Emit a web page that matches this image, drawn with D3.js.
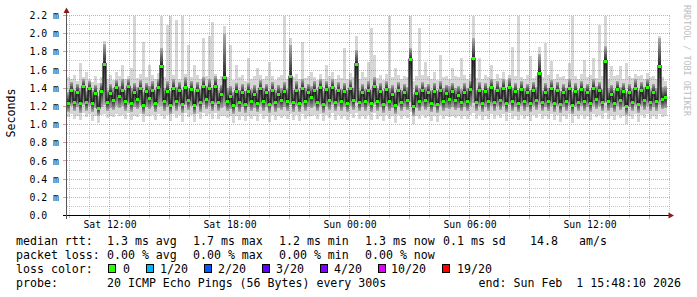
<!DOCTYPE html>
<html><head><meta charset="utf-8">
<script src="https://cdn.jsdelivr.net/npm/d3@7"></script>
<style>
body{margin:0;background:#fff}
svg{display:block}
text{font-family:"DejaVu Sans Mono",monospace;white-space:pre}
</style>
</head><body>
<svg id="c" width="697" height="297"></svg>
<script>
// ---- data (ms) ----
const stepMinutes = 9;
const median = [
1.24,1.38,1.25,1.36,1.24,1.42,1.25,1.40,1.24,1.35,
1.18,1.37,1.67,1.25,1.35,1.27,1.41,1.31,1.38,1.26,
1.42,1.24,1.36,1.28,1.40,1.22,1.37,1.29,1.38,1.24,
1.41,1.65,1.26,1.37,1.22,1.40,1.26,1.38,1.23,1.41,
1.27,1.39,1.22,1.38,1.25,1.42,1.28,1.40,1.25,1.43,
1.25,1.34,1.52,1.26,1.31,1.22,1.37,1.25,1.36,1.23,
1.37,1.26,1.34,1.24,1.40,1.26,1.36,1.23,1.38,1.25,
1.34,1.27,1.37,1.26,1.53,1.25,1.38,1.24,1.40,1.26,
1.36,1.30,1.38,1.25,1.41,1.23,1.39,1.27,1.41,1.25,
1.38,1.26,1.37,1.24,1.40,1.27,1.67,1.25,1.36,1.26,
1.38,1.24,1.42,1.26,1.37,1.23,1.39,1.26,1.34,1.22,
1.38,1.25,1.36,1.27,1.72,1.20,1.35,1.26,1.38,1.27,
1.36,1.24,1.37,1.23,1.38,1.26,1.35,1.28,1.37,1.27,
1.33,1.25,1.36,1.26,1.39,1.73,1.25,1.38,1.24,1.37,
1.26,1.41,1.25,1.38,1.27,1.40,1.24,1.41,1.26,1.37,
1.24,1.39,1.26,1.36,1.24,1.38,1.27,1.57,1.25,1.36,
1.26,1.40,1.24,1.38,1.23,1.36,1.26,1.40,1.22,1.37,
1.25,1.39,1.26,1.36,1.24,1.40,1.28,1.38,1.25,1.70,
1.26,1.34,1.24,1.39,1.27,1.37,1.21,1.36,1.25,1.40,
1.23,1.38,1.27,1.41,1.25,1.36,1.26,1.65,1.28,1.30];
const pingMax = [
1.52,1.50,1.55,1.48,1.68,1.52,1.58,1.50,1.47,1.53,
1.46,1.52,1.92,1.50,1.55,1.49,1.58,1.53,1.66,1.50,
1.54,1.62,2.20,1.51,1.56,1.91,1.52,1.66,1.55,1.50,
1.57,2.20,1.52,2.10,2.20,1.55,2.15,1.50,2.20,1.56,
1.88,1.52,1.66,1.55,1.50,1.95,1.53,1.97,2.13,1.56,
1.50,1.54,2.08,1.52,1.88,1.49,1.66,1.52,1.55,1.48,
1.73,1.50,1.54,1.62,1.55,1.50,1.53,1.69,1.54,1.49,
1.52,1.55,2.20,1.50,1.95,1.52,1.56,1.50,1.91,1.51,
1.54,1.58,1.52,1.49,1.56,1.50,1.66,1.53,1.58,1.50,
1.55,1.51,1.84,1.50,1.57,1.52,1.98,1.50,1.58,1.52,
1.69,2.06,1.77,1.51,1.55,1.49,1.56,2.20,1.52,1.62,
1.55,1.50,1.54,1.52,2.20,1.48,1.53,2.06,1.55,1.69,
1.53,1.50,1.58,1.49,1.77,1.52,1.54,1.50,1.62,1.53,
1.52,1.73,1.55,1.50,1.56,2.20,1.51,1.73,1.50,1.55,
1.52,1.66,1.50,1.56,1.51,1.58,1.49,1.55,1.85,1.54,
2.20,1.52,1.50,1.55,1.75,1.51,1.53,1.85,1.52,1.90,
1.55,1.70,1.50,1.56,1.52,1.54,1.50,1.68,2.20,1.53,
1.50,1.56,1.71,1.52,1.55,1.73,1.51,2.10,1.54,2.20,
1.50,1.65,1.53,1.55,1.64,1.50,1.68,1.54,1.51,1.56,
1.53,1.55,1.50,1.57,1.52,1.54,1.50,1.98,1.52,1.48];
const smokeHigh = [
1.36,1.47,1.38,1.45,1.40,1.50,1.37,1.48,1.38,1.44,
1.32,1.46,1.89,1.38,1.45,1.40,1.49,1.42,1.50,1.38,
1.50,1.40,1.46,1.41,1.49,1.36,1.46,1.43,1.48,1.38,
1.50,1.84,1.40,1.48,1.37,1.50,1.41,1.47,1.38,1.52,
1.40,1.48,1.36,1.47,1.39,1.52,1.42,1.50,1.40,1.53,
1.38,1.44,2.00,1.40,1.43,1.36,1.46,1.38,1.45,1.37,
1.46,1.39,1.44,1.38,1.49,1.40,1.45,1.37,1.47,1.38,
1.44,1.40,1.47,1.39,1.88,1.38,1.48,1.37,1.50,1.40,
1.45,1.42,1.48,1.38,1.50,1.37,1.48,1.41,1.50,1.38,
1.47,1.39,1.46,1.38,1.49,1.40,1.82,1.38,1.45,1.39,
1.48,1.38,1.52,1.40,1.46,1.37,1.48,1.40,1.44,1.36,
1.47,1.38,1.45,1.41,1.84,1.34,1.44,1.40,1.47,1.41,
1.45,1.38,1.46,1.37,1.48,1.40,1.44,1.42,1.46,1.40,
1.43,1.39,1.46,1.40,1.48,1.95,1.38,1.47,1.38,1.46,
1.40,1.50,1.38,1.48,1.41,1.50,1.38,1.51,1.40,1.46,
1.38,1.48,1.40,1.45,1.38,1.47,1.41,1.78,1.38,1.46,
1.40,1.49,1.38,1.47,1.37,1.45,1.40,1.50,1.36,1.46,
1.38,1.48,1.40,1.45,1.38,1.50,1.42,1.47,1.39,1.86,
1.40,1.44,1.38,1.48,1.41,1.46,1.35,1.45,1.39,1.50,
1.37,1.47,1.41,1.50,1.39,1.45,1.40,1.95,1.41,1.42];
const smokeLow = [
1.14,1.20,1.15,1.19,1.13,1.22,1.15,1.21,1.14,1.18,
1.10,1.19,1.22,1.15,1.18,1.16,1.21,1.18,1.20,1.15,
1.22,1.14,1.19,1.17,1.21,1.12,1.19,1.17,1.20,1.14,
1.21,1.20,1.15,1.19,1.12,1.21,1.15,1.20,1.13,1.22,
1.16,1.20,1.12,1.20,1.14,1.22,1.17,1.21,1.15,1.22,
1.15,1.18,1.20,1.15,1.17,1.12,1.19,1.14,1.19,1.13,
1.19,1.15,1.18,1.14,1.21,1.15,1.19,1.13,1.20,1.14,
1.18,1.16,1.19,1.15,1.22,1.14,1.20,1.14,1.21,1.15,
1.19,1.18,1.20,1.15,1.21,1.13,1.20,1.16,1.22,1.15,
1.20,1.15,1.19,1.14,1.21,1.16,1.24,1.15,1.19,1.15,
1.20,1.14,1.22,1.15,1.19,1.13,1.20,1.15,1.18,1.12,
1.20,1.15,1.19,1.16,1.25,1.10,1.18,1.15,1.20,1.16,
1.19,1.14,1.19,1.13,1.20,1.15,1.18,1.17,1.19,1.16,
1.18,1.15,1.19,1.15,1.20,1.24,1.15,1.20,1.14,1.19,
1.15,1.21,1.15,1.20,1.16,1.21,1.14,1.22,1.15,1.19,
1.14,1.20,1.15,1.19,1.14,1.20,1.16,1.22,1.15,1.19,
1.15,1.21,1.14,1.20,1.13,1.19,1.15,1.21,1.12,1.19,
1.15,1.20,1.15,1.19,1.14,1.21,1.17,1.20,1.15,1.24,
1.15,1.18,1.14,1.20,1.16,1.19,1.11,1.19,1.15,1.21,
1.13,1.20,1.16,1.21,1.15,1.19,1.15,1.22,1.17,1.18];
const pingMin = [
1.08,1.12,1.06,1.10,1.05,1.13,1.08,1.12,1.04,1.10,
1.02,1.11,1.12,1.07,1.10,1.08,1.12,1.09,1.11,1.06,
1.13,1.05,1.10,1.08,1.12,1.03,1.10,1.09,1.11,1.05,
1.12,1.10,1.06,1.11,1.04,1.12,1.07,1.11,1.03,1.13,
1.08,1.11,1.03,1.12,1.06,1.13,1.09,1.12,1.06,1.13,
1.06,1.10,1.10,1.07,1.09,1.02,1.10,1.05,1.10,1.04,
1.10,1.06,1.09,1.04,1.12,1.06,1.10,1.03,1.11,1.05,
1.09,1.07,1.10,1.06,1.12,1.05,1.11,1.04,1.12,1.06,
1.10,1.09,1.11,1.06,1.12,1.04,1.11,1.07,1.13,1.05,
1.11,1.06,1.10,1.05,1.12,1.07,1.13,1.06,1.10,1.06,
1.11,1.05,1.13,1.06,1.10,1.04,1.11,1.06,1.09,1.02,
1.11,1.06,1.10,1.07,1.14,1.01,1.09,1.06,1.11,1.07,
1.10,1.04,1.10,1.03,1.11,1.06,1.09,1.08,1.10,1.07,
1.09,1.06,1.10,1.06,1.11,1.13,1.06,1.11,1.05,1.10,
1.06,1.12,1.06,1.11,1.07,1.12,1.04,1.13,1.06,1.10,
1.05,1.11,1.06,1.10,1.04,1.11,1.07,1.12,1.06,1.10,
1.06,1.12,1.05,1.11,1.03,1.10,1.06,1.12,1.02,1.10,
1.06,1.11,1.06,1.10,1.05,1.12,1.08,1.11,1.06,1.13,
1.06,1.09,1.05,1.11,1.07,1.10,1.01,1.10,1.06,1.12,
1.03,1.11,1.07,1.12,1.06,1.10,1.06,1.12,1.08,1.09];

const yTicks = [0,0.2,0.4,0.6,0.8,1.0,1.2,1.4,1.6,1.8,2.0,2.2];
const yTickLabels = ["0.0","0.2 m","0.4 m","0.6 m","0.8 m","1.0 m","1.2 m","1.4 m","1.6 m","1.8 m","2.0 m","2.2 m"];
const yMinorTicks = [0.1,0.3,0.5,0.7,0.9,1.1,1.3,1.5,1.7,1.9,2.1];

const legendRow1 = [[16,"median rtt:"],[107,"1.3 ms avg"],[193,"1.7 ms max"],[279,"1.2 ms min"],[365,"1.3 ms now"],[443,"0.1 ms sd"],[530,"14.8"],[579,"am/s"]];
const legendRow2 = [[16,"packet loss:"],[107,"0.00 % avg"],[193,"0.00 % max"],[279,"0.00 % min"],[365,"0.00 % now"]];
const lossLabels = ["0","1/20","2/20","3/20","4/20","10/20","19/20"];
const lossColors = ["#26ff00","#00b8ff","#0059ff","#5e00ff","#7e00ff","#dd00ff","#ff0000"];
const lossBoxX = [108,146,204,262,320,378,442];
const lossTextX = [123,160,218,276,334,391,457];
const probeText = "20 ICMP Echo Pings (56 Bytes) every 300s";
const endText = "end: Sun Feb  1 15:48:10 2026";

// ---- scales ----
const t0 = new Date(2026,0,31,9,52,30);
const x = d3.scaleTime().domain([t0, new Date(2026,1,1,16,1,30)]).range([67,670]);
const y = d3.scaleLinear().domain([0,2.2]).range([215.5,15.5]);
const tAt = i => new Date(t0.getTime() + i*stepMinutes*60000);

const svg = d3.select("#c");
const defs = svg.append("defs");
function grad(id, top, bottom){
  const g = defs.append("linearGradient").attr("id",id).attr("x1",0).attr("y1",0).attr("x2",0).attr("y2",1);
  g.append("stop").attr("offset","0%").attr("stop-color",top);
  g.append("stop").attr("offset","100%").attr("stop-color",bottom);
}
grad("gLow","#222222","#adadad");
grad("gHigh","#adadad","#222222");

const idx = d3.range(median.length);
const plot = svg.append("g").attr("shape-rendering","crispEdges");
// outer smoke
plot.selectAll("rect.out").data(idx).join("rect")
  .attr("x",i=>x(tAt(i))).attr("width",i=>x(tAt(i+1))-x(tAt(i)))
  .attr("y",i=>y(pingMax[i])).attr("height",i=>y(pingMin[i])-y(pingMax[i]))
  .attr("fill","#d6d6d6");
plot.selectAll("rect.lo").data(idx).join("rect")
  .attr("x",i=>x(tAt(i))).attr("width",i=>x(tAt(i+1))-x(tAt(i)))
  .attr("y",i=>y(median[i])).attr("height",i=>Math.max(0,y(smokeLow[i])-y(median[i])))
  .attr("fill","url(#gLow)");
plot.selectAll("rect.hi").data(idx).join("rect")
  .attr("x",i=>x(tAt(i))).attr("width",i=>x(tAt(i+1))-x(tAt(i)))
  .attr("y",i=>y(smokeHigh[i])).attr("height",i=>Math.max(0,y(median[i])-y(smokeHigh[i])))
  .attr("fill","url(#gHigh)");

// grid (on top)
const grid = svg.append("g").attr("shape-rendering","crispEdges").attr("stroke-dasharray","1,1");
const hours = d3.timeHour.range(x.domain()[0], x.domain()[1]);
const X0 = 67, X1 = 670;
grid.selectAll("line.hm").data(yMinorTicks).join("line")
  .attr("x1",X0).attr("x2",X1).attr("y1",d=>Math.floor(y(d))+0.5).attr("y2",d=>Math.floor(y(d))+0.5)
  .attr("stroke","rgba(130,130,130,0.45)");
grid.selectAll("line.hM").data(yTicks.slice(1)).join("line")
  .attr("x1",X0).attr("x2",X1).attr("y1",d=>Math.floor(y(d))+0.5).attr("y2",d=>Math.floor(y(d))+0.5)
  .attr("stroke","rgba(205,70,70,0.5)");
grid.selectAll("line.v").data(hours).join("line")
  .attr("x1",d=>Math.floor(x(d))+0.5).attr("x2",d=>Math.floor(x(d))+0.5)
  .attr("y1",15.5).attr("y2",215)
  .attr("stroke",d=>d.getHours()%3===0?"rgba(205,70,70,0.5)":"rgba(130,130,130,0.45)");

// median: connecting step line + loss-colored slabs
const centers = idx.map(i=>[(x(tAt(i))+x(tAt(i+1)))/2, y(median[i])]);
svg.append("path").attr("d", d3.line().curve(d3.curveStep)(centers))
  .attr("fill","none").attr("stroke","#111").attr("stroke-width",1.2);
svg.append("g").attr("shape-rendering","crispEdges").selectAll("rect").data(idx).join("rect")
  .attr("x",i=>x(tAt(i))).attr("width",i=>x(tAt(i+1))-x(tAt(i)))
  .attr("y",i=>Math.round(y(median[i]))-1.5).attr("height",3)
  .attr("fill",lossColors[0]);

// axes
const ax = svg.append("g").attr("shape-rendering","crispEdges");
ax.selectAll("line.xt").data(hours).join("line")
  .attr("x1",d=>Math.floor(x(d))+0.5).attr("x2",d=>Math.floor(x(d))+0.5)
  .attr("y1",215.5).attr("y2",d=>d.getHours()%3===0?219:218)
  .attr("stroke",d=>d.getHours()%3===0?"#e09a9a":"#c8c8c8");
ax.selectAll("line.yt").data(yTicks.slice(1)).join("line")
  .attr("x1",63).attr("x2",66).attr("y1",d=>Math.floor(y(d))+0.5).attr("y2",d=>Math.floor(y(d))+0.5)
  .attr("stroke","#e09a9a");
ax.append("line").attr("x1",63).attr("x2",670).attr("y1",215.5).attr("y2",215.5).attr("stroke","#000");
ax.append("line").attr("x1",66.5).attr("x2",66.5).attr("y1",219).attr("y2",12).attr("stroke","#555");
svg.append("path").attr("d","M66.5,7.5L63.5,13L69.5,13Z").attr("fill","#8b1c1c");
svg.append("path").attr("d","M674,215.5L668.5,212.5L668.5,218.5Z").attr("fill","#8b1c1c");

// tick labels
svg.selectAll("text.yl").data(yTicks).join("text")
  .attr("x",29.5).attr("y",d=>y(d)+3.6).attr("font-size","9.8px").attr("fill","#000")
  .text((d,i)=>yTickLabels[i]);
const fmt = d3.timeFormat("%a %H:%M");
svg.selectAll("text.xl").data(hours.filter(d=>d.getHours()%6===0)).join("text")
  .attr("x",d=>x(d)+0.5).attr("y",227.5).attr("text-anchor","middle").attr("font-size","9.8px").attr("fill","#000")
  .text(d=>fmt(d));

// y title & watermark
svg.append("text").attr("transform","translate(15,113) rotate(-90)").attr("text-anchor","middle")
  .attr("font-size","11.6px").text("Seconds");
svg.append("text").attr("transform","translate(684,5) rotate(90)").attr("font-size","8.4px")
  .attr("fill","#bdbdbd").text("RRDTOOL / TOBI OETIKER");

// legend
const lg = svg.append("g").attr("font-size","11.6px").attr("fill","#000");
function row(items, yb){
  items.forEach(([px,t])=>lg.append("text").attr("x",px).attr("y",yb).attr("xml:space","preserve").text(t));
}
row(legendRow1,245);
row(legendRow2,259);
row([[16,"loss color:"]],273);
lossLabels.forEach((t,i)=>{
  lg.append("rect").attr("x",lossBoxX[i]+0.5).attr("y",264.5).attr("width",7).attr("height",8)
    .attr("fill",lossColors[i]).attr("stroke","#000").attr("shape-rendering","crispEdges");
  lg.append("text").attr("x",lossTextX[i]).attr("y",273).text(t);
});
row([[16,"probe:"],[107,probeText]],287);
lg.append("text").attr("x",681).attr("y",287).attr("text-anchor","end").attr("xml:space","preserve").text(endText);
</script>
</body></html>
